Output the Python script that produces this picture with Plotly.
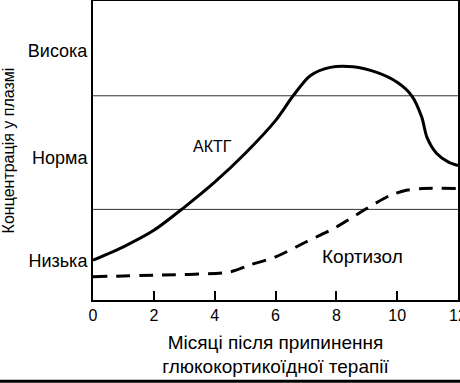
import plotly.graph_objects as go

# Months after stopping glucocorticoid therapy
acth_x = [0, 1, 2, 3, 4, 5, 6, 6.58, 7.14, 7.8, 8.55, 9.33, 10, 10.48, 10.81, 10.98, 11.3, 11.69, 12]
acth_y = [1.33, 1.78, 2.33, 3.1, 3.94, 4.9, 6.0, 6.83, 7.5, 7.78, 7.8, 7.61, 7.28, 6.83, 6.11, 5.44, 4.9, 4.61, 4.5]

cort_x = [0, 2, 4.5, 5.15, 6, 7, 8, 9, 9.77, 10.3, 10.85, 12]
cort_y = [0.78, 0.83, 0.94, 1.17, 1.44, 1.94, 2.44, 3.06, 3.5, 3.67, 3.73, 3.73]

x_ticks = [0, 2, 4, 6, 8, 10, 12]
y_tick_vals = [1.33, 4.77, 8.33]
y_tick_text = ["Низька", "Норма", "Висока"]
ref_levels = [3.03, 6.83]

FONT = "Liberation Sans, Arial, sans-serif"

fig = go.Figure()
fig.add_trace(go.Scatter(x=acth_x, y=acth_y, mode="lines",
                         line=dict(color="black", width=3, shape="spline", smoothing=0.8),
                         showlegend=False, hoverinfo="skip"))
fig.add_trace(go.Scatter(x=cort_x, y=cort_y, mode="lines",
                         line=dict(color="black", width=3, shape="spline", smoothing=0.8, dash="14px,9px"),
                         showlegend=False, hoverinfo="skip"))

for lv in ref_levels:
    fig.add_shape(type="line", xref="x", yref="y", x0=0, x1=12, y0=lv, y1=lv,
                  line=dict(color="#333", width=1), layer="below")

fig.add_annotation(x=3.92, y=5.15, text="АКТГ", showarrow=False,
                   font=dict(family=FONT, size=16, color="black"))
fig.add_annotation(x=8.87, y=1.47, text="Кортизол", showarrow=False,
                   font=dict(family=FONT, size=19, color="black"))

# bottom border of the picture
fig.add_shape(type="line", xref="paper", yref="paper", x0=-0.3, x1=1.1, y0=-0.272, y1=-0.272,
              line=dict(color="black", width=3))

fig.update_layout(
    width=460, height=383,
    margin=dict(l=93, r=2, t=1, b=83),
    paper_bgcolor="white", plot_bgcolor="white",
    font=dict(family=FONT, size=15, color="black"),
    xaxis=dict(range=[0, 12], tickvals=x_ticks, ticks="inside", ticklen=9, tickwidth=1.5,
               tickcolor="black", showline=True, linecolor="black", linewidth=2, mirror=True,
               showgrid=False, zeroline=False, tickfont=dict(size=16), automargin=False,
               ticklabeloverflow="allow",
               title=dict(text="Місяці після припинення<br>глюкокортикоїдної терапії",
                          font=dict(size=19), standoff=12)),
    yaxis=dict(range=[0, 10], tickvals=y_tick_vals, ticktext=y_tick_text, ticks="",
               showline=True, linecolor="black", linewidth=2, mirror=True,
               showgrid=False, zeroline=False, tickfont=dict(size=18), automargin=False,
               title=dict(text="Концентрація у плазмі", font=dict(size=16), standoff=9)),
)

fig.write_html("out.html", config={"displayModeBar": False},
               post_script="document.body.style.margin='0';")
